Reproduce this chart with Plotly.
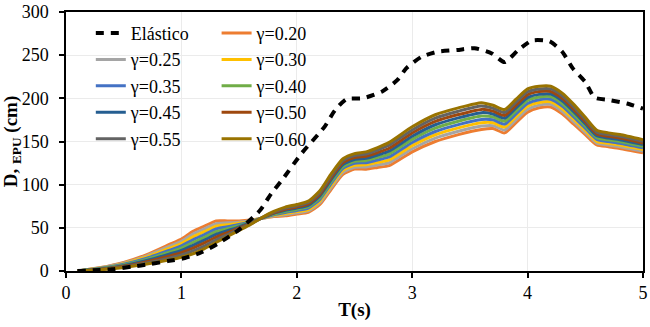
import plotly.graph_objects as go

T = [0.1, 0.3, 0.5, 0.7, 0.9, 1.0, 1.1, 1.2, 1.3, 1.4, 1.5, 1.6, 1.7, 1.8, 1.9, 2.0, 2.1, 2.2, 2.3, 2.4,
     2.5, 2.6, 2.7, 2.8, 3.0, 3.2, 3.4, 3.6, 3.7, 3.8, 3.9, 4.0, 4.1, 4.2, 4.3, 4.4, 4.5, 4.6, 4.7, 4.8, 5.0]

g020 = [0, 4, 10, 19, 31, 37, 46, 52, 58, 58, 58, 59, 61, 63, 64, 66, 68, 77, 95, 112, 118, 118, 120, 122, 138, 150, 158, 164, 165, 160, 172, 184, 189, 190, 182, 170, 158, 146, 144, 142, 137]
g025 = [0, 3.7, 9.2, 17.6, 28.8, 34.4, 42.8, 48.8, 54.9, 55.8, 56.6, 58.4, 61.1, 63.8, 65.2, 67.4, 69.6, 79, 97.2, 114.2, 120.2, 120.5, 122.9, 125.4, 141.6, 153.9, 161.9, 167.9, 168.4, 163.4, 175.4, 187.4, 192.1, 193, 185, 172.9, 160.5, 148.1, 146, 144, 138.9]
g030 = [0, 3.4, 8.5, 16.2, 26.5, 31.8, 39.5, 45.5, 51.8, 53.5, 55.2, 57.8, 61.2, 64.5, 66.5, 68.8, 71.2, 81, 99.5, 116.5, 122.5, 123, 125.8, 128.8, 145.2, 157.8, 165.8, 171.8, 171.8, 166.8, 178.8, 190.8, 195.2, 196, 188, 175.8, 163, 150.2, 148, 146, 140.8]
g035 = [0, 3.1, 7.8, 14.9, 24.2, 29.1, 36.2, 42.2, 48.6, 51.2, 53.9, 57.1, 61.4, 65.2, 67.8, 70.1, 72.9, 83, 101.8, 118.8, 124.8, 125.5, 128.6, 132.1, 148.9, 161.6, 169.6, 175.6, 175.1, 170.1, 182.1, 194.1, 198.4, 199, 191, 178.6, 165.5, 152.4, 150, 148, 142.6]
g040 = [0, 2.8, 7, 13.5, 22, 26.5, 33, 39, 45.5, 49, 52.5, 56.5, 61.5, 66, 69, 71.5, 74.5, 85, 104, 121, 127, 128, 131.5, 135.5, 152.5, 165.5, 173.5, 179.5, 178.5, 173.5, 185.5, 197.5, 201.5, 202, 194, 181.5, 168, 154.5, 152, 150, 144.5]
g045 = [0, 2.4, 6.2, 12.1, 19.8, 23.9, 29.8, 35.8, 42.4, 46.8, 51.1, 55.9, 61.6, 66.8, 70.2, 72.9, 76.1, 87, 106.2, 123.2, 129.2, 130.5, 134.4, 138.9, 156.1, 169.4, 177.4, 183.4, 181.9, 176.9, 188.9, 200.9, 204.6, 205, 197, 184.4, 170.5, 156.6, 154, 152, 146.4]
g050 = [0, 2.1, 5.5, 10.8, 17.5, 21.2, 26.5, 32.5, 39.2, 44.5, 49.8, 55.2, 61.8, 67.5, 71.5, 74.2, 77.8, 89, 108.5, 125.5, 131.5, 133, 137.2, 142.2, 159.8, 173.2, 181.2, 187.2, 185.2, 180.2, 192.2, 204.2, 207.8, 208, 200, 187.2, 173, 158.8, 156, 154, 148.2]
g055 = [0, 1.8, 4.8, 9.4, 15.2, 18.6, 23.2, 29.2, 36.1, 42.2, 48.4, 54.6, 61.9, 68.2, 72.8, 75.6, 79.4, 91, 110.8, 127.8, 133.8, 135.5, 140.1, 145.6, 163.4, 177.1, 185.1, 191.1, 188.6, 183.6, 195.6, 207.6, 210.9, 211, 203, 190.1, 175.5, 160.9, 158, 156, 150.1]
g060 = [0, 1.5, 4, 8, 13, 16, 20, 26, 33, 40, 47, 54, 62, 69, 74, 77, 81, 93, 113, 130, 136, 138, 143, 149, 167, 181, 189, 195, 192, 187, 199, 211, 214, 214, 206, 193, 178, 163, 160, 158, 152]

T_el = [0.1, 0.4, 0.57, 0.73, 0.88, 1.03, 1.18, 1.32, 1.5, 1.68, 1.78, 1.87, 2.04, 2.24, 2.33, 2.43, 2.57,
        2.74, 2.87, 2.95, 3.08, 3.22, 3.39, 3.54, 3.69, 3.80, 3.92, 4.04, 4.19, 4.30, 4.39, 4.50, 4.58,
        4.71, 4.86, 5.0]
D_el = [0, 2, 5, 8, 11.5, 15, 22, 32, 48, 70, 90, 105, 136, 167, 186, 199, 200, 208, 221, 235, 248,
        254, 256, 258, 252, 242, 256, 267, 266, 254, 235, 219, 201, 198, 194, 188]

x_ticks = [0, 1, 2, 3, 4, 5]
y_ticks = [0, 50, 100, 150, 200, 250, 300]

labels = ["γ=0.20", "γ=0.25", "γ=0.30", "γ=0.35", "γ=0.40", "γ=0.45", "γ=0.50", "γ=0.55", "γ=0.60"]
series = [g020, g025, g030, g035, g040, g045, g050, g055, g060]
colors = ["#ED7D31", "#A5A5A5", "#FFC000", "#4472C4", "#70AD47", "#255E91", "#9E480E", "#636363", "#997300"]
legend_of = ["legend2", "legend", "legend2", "legend", "legend2", "legend", "legend2", "legend", "legend2"]

FONT = "Liberation Serif"

fig = go.Figure()
for i, (lab, ys, col, lg) in enumerate(zip(labels, series, colors, legend_of)):
    fig.add_trace(go.Scatter(x=T, y=ys, name=lab, mode="lines",
                             line=dict(color=col, width=3, shape="spline", smoothing=0.6),
                             legend=lg, legendgroup=lab, legendrank=2 + i))

fig.add_trace(go.Scatter(x=T_el, y=D_el, name="Elástico", mode="lines",
                         line=dict(color="black", width=4, dash="8px,7px", shape="spline", smoothing=0.6),
                         legend="legend", legendgroup="el", legendrank=1))

leg_common = dict(font=dict(family=FONT, size=18, color="black"), bgcolor="rgba(0,0,0,0)",
                  tracegroupgap=0, xanchor="left", yanchor="top", itemwidth=30)

fig.update_layout(
    width=650, height=327,
    margin=dict(l=66, r=7, t=12, b=56, autoexpand=False),
    paper_bgcolor="white", plot_bgcolor="white",
    font=dict(family=FONT, size=18, color="black"),
    legend=dict(x=0.043, y=0.989, **leg_common),
    legend2=dict(x=0.261, y=0.989, **leg_common),
    xaxis=dict(range=[0, 5], tickvals=x_ticks, showline=True, linecolor="black", linewidth=1.5,
               mirror=True, ticks="outside", ticklen=5, tickcolor="black", tickwidth=1.5,
               showgrid=True, gridcolor="#EBEBEB", gridwidth=1, zeroline=False, automargin=False,
               ticklabeloverflow="allow", ticklabelstandoff=0,
               tickfont=dict(family=FONT, size=18),
               title=dict(text="<b>T(s)</b>", font=dict(family=FONT, size=19), standoff=0)),
    yaxis=dict(range=[0, 300], tickvals=y_ticks, showline=True, linecolor="black", linewidth=1.5,
               mirror=True, ticks="outside", ticklen=5, tickcolor="black", tickwidth=1.5,
               showgrid=True, gridcolor="#EBEBEB", gridwidth=1, zeroline=False, automargin=False,
               ticklabeloverflow="allow", ticklabelstandoff=7,
               tickfont=dict(family=FONT, size=18),
               title=dict(text="<b>D, <sub>EPU</sub> (cm)</b>", font=dict(family=FONT, size=19), standoff=4)),
)

fig.write_html("out.html", config={"displayModeBar": False},
               post_script="document.body.style.margin='0';document.body.style.padding='0';")
